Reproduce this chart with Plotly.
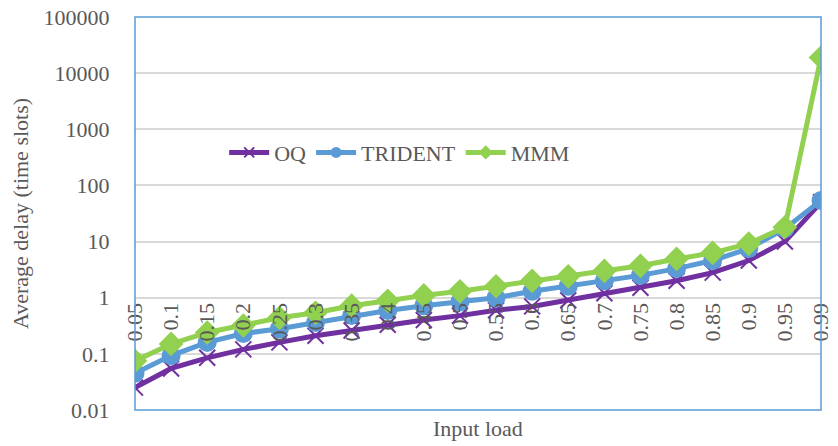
import plotly.graph_objects as go

# Input load values (category axis)
loads = ["0.05", "0.1", "0.15", "0.2", "0.25", "0.3", "0.35", "0.4", "0.45", "0.5",
         "0.55", "0.6", "0.65", "0.7", "0.75", "0.8", "0.85", "0.9", "0.95", "0.99"]

# Average delay in time slots for each scheme
oq = [0.025, 0.055, 0.085, 0.12, 0.16, 0.21, 0.26, 0.33, 0.40, 0.48,
      0.60, 0.70, 0.90, 1.2, 1.5, 2.0, 2.8, 4.6, 10, 50]
trident = [0.045, 0.093, 0.16, 0.23, 0.28, 0.36, 0.48, 0.59, 0.72, 0.85,
           1.0, 1.3, 1.6, 2.0, 2.5, 3.3, 4.6, 7.5, 17, 54]
mmm = [0.075, 0.15, 0.24, 0.32, 0.44, 0.54, 0.72, 0.88, 1.1, 1.3,
       1.6, 2.0, 2.4, 3.0, 3.7, 4.9, 6.3, 9.2, 18, 19000]

y_ticks = [0.01, 0.1, 1, 10, 100, 1000, 10000, 100000]
y_tick_text = ["0.01", "0.1", "1", "10", "100", "1000", "10000", "100000"]

FONT = "'Liberation Serif', 'Times New Roman', Tinos, serif"
TXT = "#595959"
PURPLE = "#7030A0"
BLUE = "#5B9BD5"
GREEN = "#92D050"

series = [
    ("OQ", oq, PURPLE, dict(symbol="x-thin", size=16, line=dict(color=PURPLE, width=2)),
     dict(symbol="x-thin", size=10, line=dict(color=PURPLE, width=2))),
    ("TRIDENT", trident, BLUE, dict(symbol="circle", size=19, color=BLUE),
     dict(symbol="circle", size=11, color=BLUE)),
    ("MMM", mmm, GREEN, dict(symbol="diamond", size=19, color=GREEN),
     dict(symbol="diamond", size=11, color=GREEN)),
]

fig = go.Figure()
for name, vals, color, mk, _ in series:
    fig.add_trace(go.Scatter(
        x=loads, y=vals, name=name, mode="lines+markers", showlegend=False,
        line=dict(color=color, width=5), marker=mk,
    ))
# legend entries with smaller symbols
for name, _, color, _, lmk in series:
    fig.add_trace(go.Scatter(
        x=[None], y=[None], name=name, mode="lines+markers", showlegend=True,
        line=dict(color=color, width=5), marker=lmk,
    ))

fig.update_layout(
    width=838, height=446,
    margin=dict(l=135, r=5, t=17, b=36),
    paper_bgcolor="white", plot_bgcolor="white",
    font=dict(family=FONT, size=22, color=TXT),
    legend=dict(
        orientation="h", x=0.13, y=0.655, xanchor="left", yanchor="middle",
        bgcolor="rgba(0,0,0,0)", font=dict(family=FONT, size=22, color=TXT),
        itemwidth=40, tracegroupgap=0,
    ),
    xaxis=dict(
        type="category", range=[0, len(loads) - 1],
        anchor="free", position=2 / 7,
        showgrid=False, showline=False, zeroline=False,
        tickangle=-90, ticks="", tickfont=dict(family=FONT, size=22, color=TXT),
    ),
    yaxis=dict(
        type="log", range=[-2, 5],
        tickvals=y_ticks, ticktext=y_tick_text,
        showgrid=True, gridcolor="#D9D9D9", gridwidth=1.5,
        showline=False, zeroline=False,
        ticks="outside", ticklen=20, tickcolor="rgba(0,0,0,0)",
        tickfont=dict(family=FONT, size=22, color=TXT),
        title=dict(text="Average delay (time slots)", standoff=8,
                   font=dict(family=FONT, size=22, color=TXT)),
    ),
    shapes=[dict(type="rect", xref="paper", yref="paper", x0=0, x1=1, y0=0, y1=1,
                 line=dict(color=BLUE, width=1.5), layer="above")],
    annotations=[dict(text="Input load", xref="paper", yref="paper", x=0.5, y=0,
                      xanchor="center", yanchor="top", yshift=-4, showarrow=False,
                      font=dict(family=FONT, size=22, color=TXT))],
)

fig.write_html("out.html")
